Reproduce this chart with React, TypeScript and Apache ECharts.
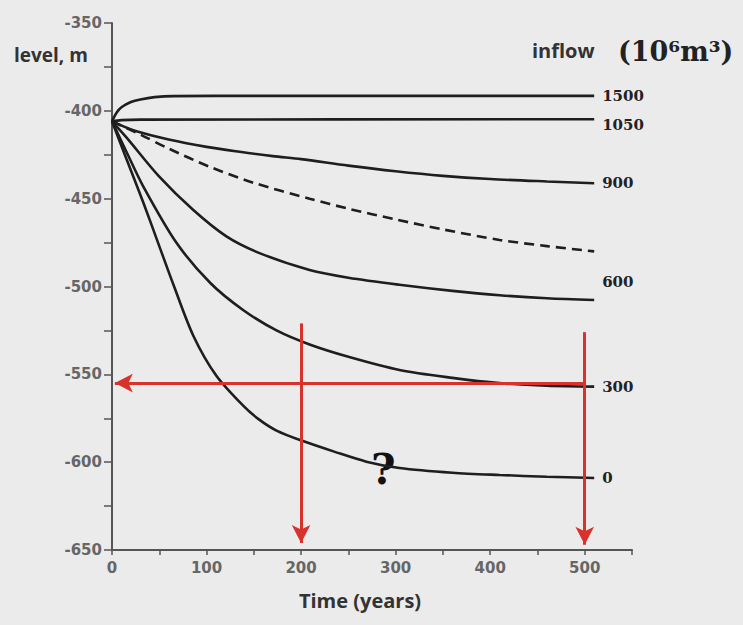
import React, { useEffect, useRef } from "react";
import * as echarts from "echarts";

// Water level (m) vs time (years) for different inflows (10^6 m^3)
const inflowNames = ["1500", "1050", "900", "", "600", "300", "0"];

const curve1500: number[][] = [[0, -406], [5, -401], [10, -398], [20, -395], [30, -393.5], [45, -392.2], [65, -391.6], [150, -391.5], [510, -391.5]];
const curve1050: number[][] = [[0, -406], [10, -405.3], [30, -405], [510, -404.8]];
const curve900: number[][] = [[0, -406], [25, -411.5], [60, -416.3], [100, -420.5], [135, -423.3], [170, -425.8], [200, -427.5], [250, -431.2], [300, -434.4], [350, -437], [400, -438.8], [460, -440.2], [510, -441.2]];
const curveDashed: number[][] = [[0, -406], [30, -413.5], [60, -421.5], [104, -432], [150, -441], [209, -450], [250, -455.7], [300, -461.8], [350, -467.5], [410, -473.5], [460, -477], [510, -480]];
const curve600: number[][] = [[0, -406], [15, -415], [50, -437.5], [86, -456.5], [121, -471.5], [156, -481], [209, -490.6], [250, -495], [304, -499], [360, -502.5], [410, -505], [460, -506.7], [510, -507.7]];
const curve300: number[][] = [[0, -406], [15, -423], [33, -443], [68, -475], [104, -498], [139, -513.5], [174, -525], [209, -533], [250, -540], [304, -547.5], [360, -552], [410, -555], [460, -556.5], [510, -557]];
const curve0: number[][] = [[0, -406], [15, -427], [33, -452], [50, -477], [65, -499], [86, -528], [110, -550.5], [139, -568], [155, -575.5], [174, -582], [202, -588], [235, -594], [269, -599.7], [304, -603.3], [360, -606], [410, -607.3], [460, -608.3], [510, -609]];

const curves = [curve1500, curve1050, curve900, curveDashed, curve600, curve300, curve0];

// Red arrows
const arrowDown200: number[][] = [[200, -521], [200, -646]];
const arrowDown500: number[][] = [[500, -526], [500, -647]];
const arrowLeft555: number[][] = [[500, -555], [3, -555]];

const xTicks = [0, 100, 200, 300, 400, 500];
const yTicks = [-650, -600, -550, -500, -450, -400, -350];

export default function App() {
  const ref = useRef<HTMLDivElement>(null);
  useEffect(() => {
    if (!ref.current) return;
    const chart = echarts.init(ref.current, null, { renderer: "svg" });
    const labelDy = [0, 6, 0, 0, -18, 0, 0];
    const series: any[] = curves.map((c, i) => ({
      type: "line",
      name: inflowNames[i] || "dashed",
      data: c,
      smooth: 0.3,
      showSymbol: false,
      symbol: "none",
      lineStyle: {
        color: "#1e1e1e",
        width: 2.6,
        type: inflowNames[i] === "" ? [10, 6] : "solid",
      },
      endLabel: {
        show: inflowNames[i] !== "",
        formatter: inflowNames[i],
        color: "#222",
        fontFamily: "DejaVu Serif",
        fontWeight: "bold",
        fontSize: 15,
        distance: 8,
        offset: [0, labelDy[i]],
      },
      z: 2,
    }));
    series.push({
      type: "line",
      data: [],
      markLine: {
        silent: true,
        symbol: ["none", "arrow"],
        symbolSize: [14, 18],
        label: { show: false },
        lineStyle: { color: "#d8322c", width: 3, type: "solid" },
        data: [arrowDown200, arrowDown500, arrowLeft555].map((a) => [
          { coord: a[0] },
          { coord: a[1] },
        ]),
      },
      z: 5,
    });
    chart.setOption({
      animation: false,
      backgroundColor: "#ebebeb",
      grid: { left: 112, right: 111, top: 23, bottom: 75 },
      xAxis: {
        type: "value",
        min: 0,
        max: 550,
        interval: 50,
        name: "Time (years)",
        nameLocation: "middle",
        nameGap: 40,
        nameTextStyle: {
          fontFamily: "Open Sans",
          fontWeight: "bold",
          fontSize: 20,
          color: "#333",
          padding: [0, 24, 0, 0],
        },
        axisLine: { onZero: false, lineStyle: { color: "#555", width: 2 } },
        axisTick: { show: true, length: 5, lineStyle: { color: "#555", width: 1.5 } },
        axisLabel: {
          margin: 10,
          color: "#666",
          fontFamily: "DejaVu Sans",
          fontWeight: "bold",
          fontSize: 15,
          formatter: (v: number) => (xTicks.includes(v) ? String(v) : ""),
        },
        splitLine: { show: false },
      },
      yAxis: {
        type: "value",
        min: -650,
        max: -350,
        interval: 25,
        axisLine: { onZero: false, lineStyle: { color: "#555", width: 2 } },
        axisTick: { show: true, length: 8, lineStyle: { color: "#555", width: 1.5 } },
        axisLabel: {
          margin: 10,
          color: "#666",
          fontFamily: "DejaVu Sans",
          fontWeight: "bold",
          fontSize: 15,
          formatter: (v: number) => (yTicks.includes(v) ? String(v) : ""),
        },
        splitLine: { show: false },
      },
      graphic: [
        {
          type: "text",
          left: 14,
          top: 45,
          style: {
            text: "level, m",
            fontFamily: "Open Sans",
            fontWeight: "bold",
            fontSize: 19,
            fill: "#333",
          },
        },
        {
          type: "text",
          left: 532,
          top: 40,
          style: {
            text: "inflow",
            fontFamily: "Open Sans",
            fontWeight: "bold",
            fontSize: 20,
            fill: "#333",
          },
        },
        {
          type: "text",
          left: 618,
          top: 38,
          style: {
            text: "(10⁶m³)",
            fontFamily: "DejaVu Serif",
            fontWeight: "bold",
            fontSize: 27,
            fill: "#222",
          },
        },
        {
          type: "text",
          left: 371,
          top: 448,
          style: {
            text: "?",
            fontFamily: "DejaVu Serif",
            fontWeight: "bold",
            fontSize: 42,
            fill: "#111",
          },
        },
      ],
      series,
    });
    return () => chart.dispose();
  }, []);
  return (
    <div
      ref={ref}
      style={{ position: "fixed", left: 0, top: 0, width: 743, height: 625 }}
    />
  );
}
